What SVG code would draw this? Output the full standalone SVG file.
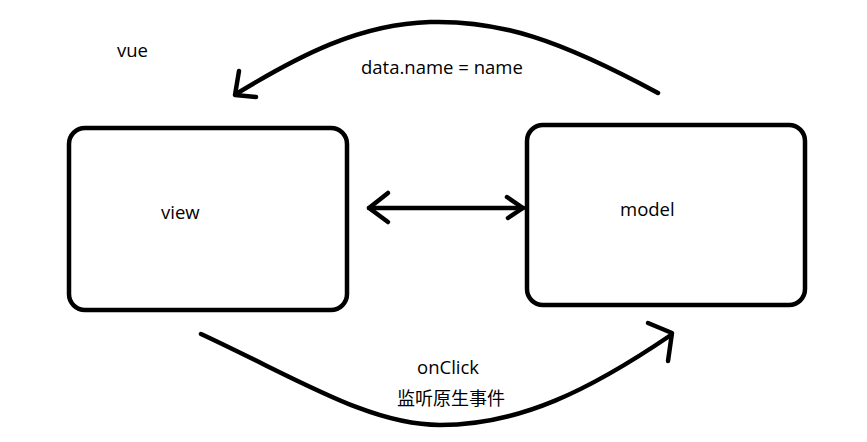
<svg xmlns="http://www.w3.org/2000/svg" width="867" height="442" viewBox="0 0 867 442">
<style>
.box{fill:none;stroke:#000;stroke-width:4.5}
.ln{fill:none;stroke:#000;stroke-width:4.5;stroke-linecap:round;stroke-linejoin:round}
text{font-family:"Open Sans","Noto Sans","Noto Sans CJK SC",sans-serif;font-size:18.5px;fill:#000}
text.cjk{font-size:18px}
</style>
<rect width="867" height="442" fill="#fff"/>
<text x="117" y="57">vue</text>
<g id="view"><rect class="box" x="69" y="128" width="278" height="182" rx="16"/><text x="161" y="219">view</text></g>
<g id="model"><rect class="box" x="527" y="125" width="278" height="180" rx="16"/><text x="620" y="216">model</text></g>
<g id="connectors">
<path class="ln" d="M658,93 C560,40 500,20 430,22 C360,24 300,55 236,94"/>
<path class="ln" d="M239,71 L235,95 L256,97"/>
<text x="361" y="74">data.name = name</text>
<path class="ln" d="M201,334 C300,380 370,425 440,425 C520,425 590,390 671,335"/>
<path class="ln" d="M648,323 L672,333 L668,361"/>
<text x="417" y="374">onClick</text>
<text class="cjk" x="397" y="405">监听原生事件</text>
<path class="ln" d="M369,208 L523,208"/>
<path class="ln" d="M388,193 L369,208 L388,222"/>
<path class="ln" d="M507,197 L523,208 L508,218"/>
</g>
</svg>
